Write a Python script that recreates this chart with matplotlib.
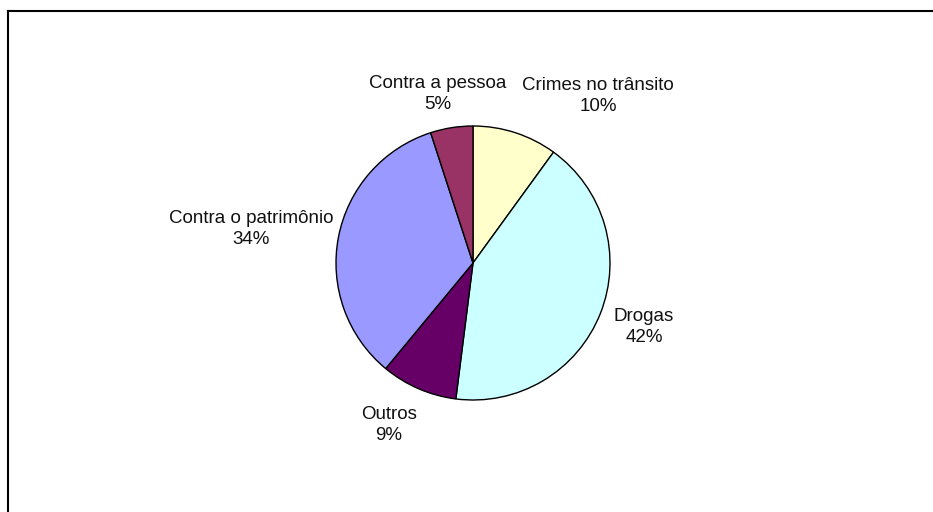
import matplotlib.pyplot as plt

# Natureza dos crimes (%)
categorias = ['Crimes no trânsito', 'Drogas', 'Outros', 'Contra o patrimônio', 'Contra a pessoa']
valores = [10, 42, 9, 34, 5]
cores = ['#FFFFCC', '#CCFFFF', '#660066', '#9999FF', '#993366']

# posição dos rótulos (pixels)
pos_rotulos = [(598, 96), (644, 327), (389, 425), (251, 229), (438, 94)]

plt.rcParams['font.family'] = ['Liberation Sans', 'DejaVu Sans']

fig = plt.figure(figsize=(9.33, 5.12), dpi=100)
ax = fig.add_axes([0, 0, 1, 1])

# eixo y invertido: -90 aponta para cima e o sentido fica horário
ax.pie(valores, colors=cores, center=(473, 263), radius=137,
       startangle=-90, counterclock=True,
       wedgeprops=dict(edgecolor='black', linewidth=1.0), frame=True)
ax.set_xlim(0, 933)
ax.set_ylim(512, 0)
ax.axis('off')

for nome, v, (x, y) in zip(categorias, valores, pos_rotulos):
    ax.text(x, y, nome + '\n' + str(v) + '%', ha='center', va='center',
            fontsize=13.5, linespacing=1.3, color='#111111')

# moldura (apenas topo e esquerda visíveis)
ax.plot([8, 933], [11, 11], color='black', linewidth=1.5)
ax.plot([8, 8], [11, 512], color='black', linewidth=1.5)

fig.savefig('out.png', dpi=100)
